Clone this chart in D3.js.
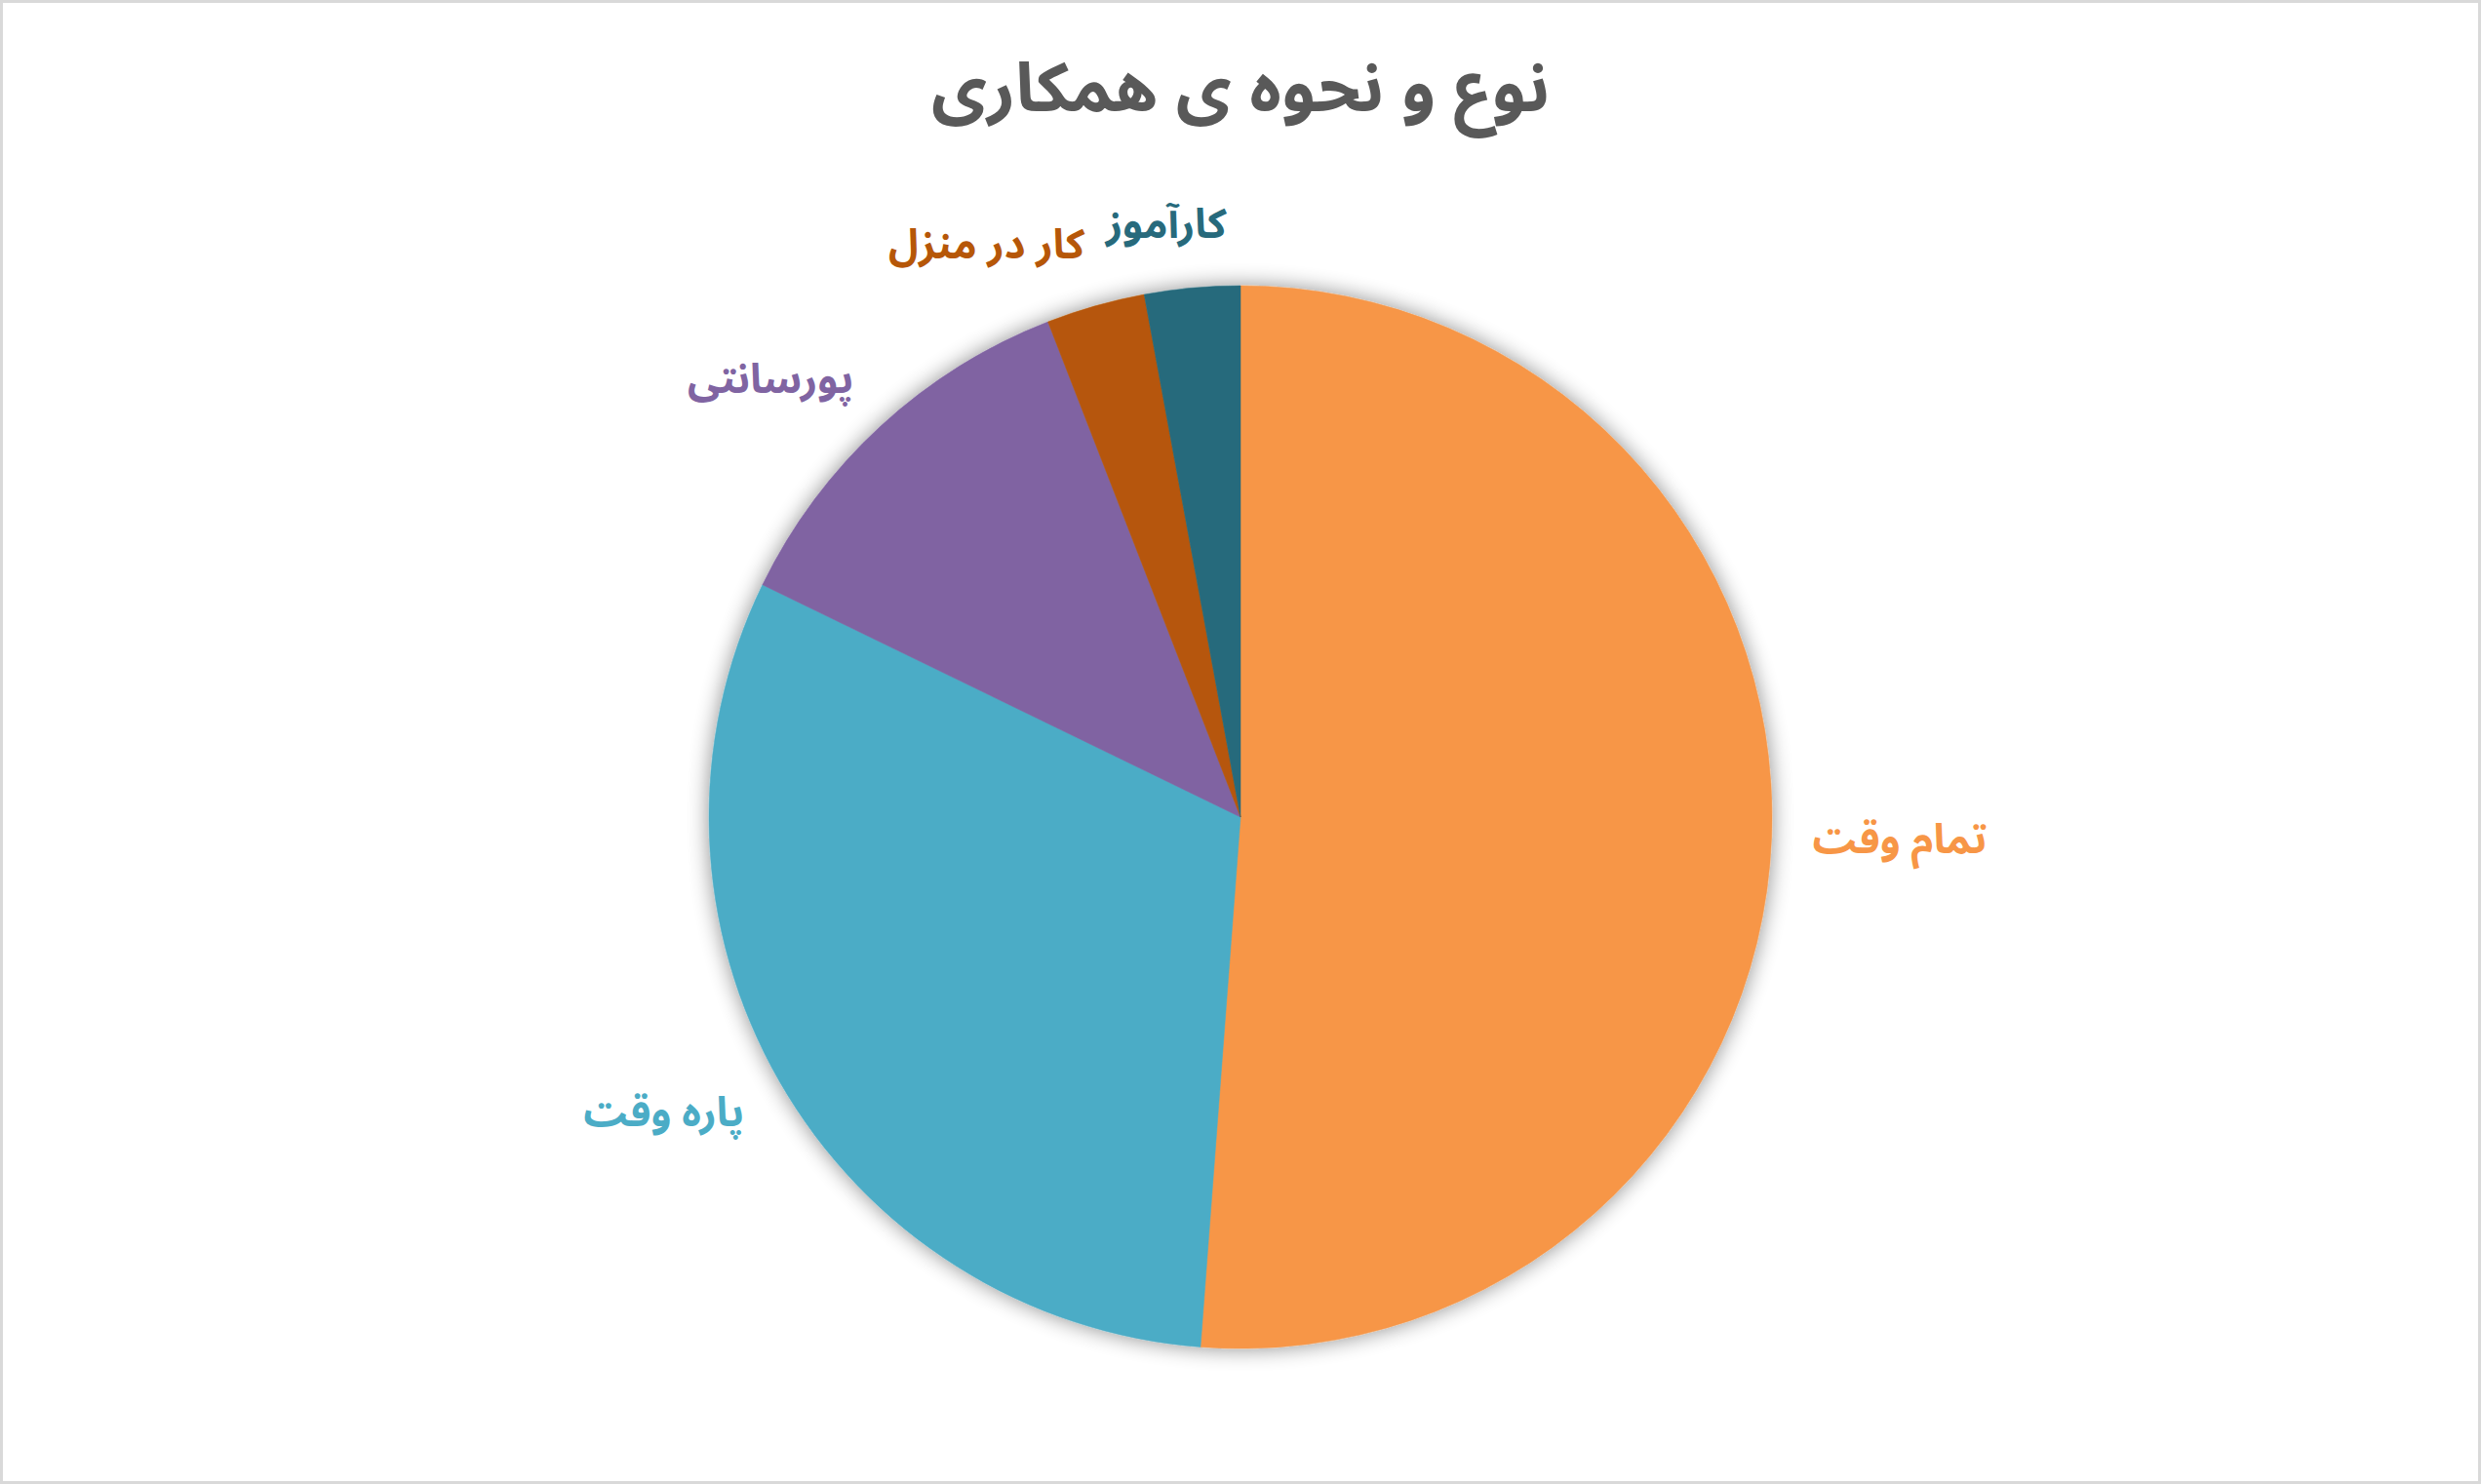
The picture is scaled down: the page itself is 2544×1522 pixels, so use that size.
<!DOCTYPE html>
<html>
<head>
<meta charset="utf-8">
<script src="https://cdn.jsdelivr.net/npm/d3@7/dist/d3.min.js"></script>
<style>
  html, body { margin: 0; padding: 0; background: #fff; }
  svg { display: block; }
  text { font-family: "Noto Sans Arabic", "DejaVu Sans", sans-serif; font-weight: bold; }
</style>
</head>
<body>
<svg id="chart" width="2544" height="1522"></svg>
<script>
// ---- data ----
const title = "نوع و نحوه ی همکاری";
const categories = ["تمام وقت", "پاره وقت", "پورسانتی", "کار در منزل", "کارآموز"];
const values = [51.2, 31.0, 11.9, 3.0, 2.9];
const colors = ["#F79646", "#4BACC6", "#8064A2", "#B65708", "#276A7C"];

// ---- layout ----
const W = 2544, H = 1522;
const cx = 1272, cy = 838, R = 545;
const svg = d3.select("#chart");

svg.append("rect")
  .attr("x", 1.5).attr("y", 1.5).attr("width", W - 3).attr("height", H - 3)
  .attr("fill", "#fff").attr("stroke", "#D9D9D9").attr("stroke-width", 3);

const defs = svg.append("defs");
const f = defs.append("filter").attr("id", "shadow")
  .attr("x", "-20%").attr("y", "-20%").attr("width", "140%").attr("height", "140%");
f.append("feGaussianBlur").attr("in", "SourceAlpha").attr("stdDeviation", 11).attr("result", "b");
f.append("feComponentTransfer").attr("in", "b").attr("result", "s")
  .append("feFuncA").attr("type", "linear").attr("slope", 0.45);
const fm = f.append("feMerge");
fm.append("feMergeNode").attr("in", "s");
fm.append("feMergeNode").attr("in", "SourceGraphic");

svg.append("text")
  .attr("x", cx).attr("y", 114)
  .attr("text-anchor", "middle")
  .attr("direction", "rtl")
  .attr("fill", "#595959")
  .attr("font-size", 70)
  .text(title);

const data = categories.map((c, i) => ({ name: c, value: values[i], color: colors[i] }));
const pie = d3.pie().value(d => d.value).sort(null);
const arcs = pie(data);
const arc = d3.arc().innerRadius(0).outerRadius(R);

const g = svg.append("g").attr("transform", `translate(${cx},${cy})`);
const sg = g.append("g").attr("filter", "url(#shadow)");
sg.selectAll("path").data(arcs).enter().append("path")
  .attr("d", arc)
  .attr("fill", d => d.data.color)
  .attr("stroke", d => d.data.color)
  .attr("stroke-width", 0.5);

// labels: outside end, box placed beyond the rim along the mid angle
const gap = 42;
const labels = g.selectAll("text.lbl").data(arcs).enter().append("text")
  .attr("class", "lbl")
  .attr("text-anchor", "middle")
  .attr("direction", "rtl")
  .attr("font-size", 42)
  .attr("fill", d => d.data.color)
  .text(d => d.data.name);

const boxes = [];
labels.each(function(d) {
  const bb = this.getBBox();
  const a = (d.startAngle + d.endAngle) / 2;
  const s = Math.sin(a), c = Math.cos(a);
  const w = bb.width, h = 46;
  const k = Math.min(1, Math.sqrt(Math.abs(s)) * 1.2) * Math.sign(s);
  const mx = (R + gap) * s + k * w / 2;
  const my = -(R + gap) * c - c * h / 2;
  boxes.push({ node: this, x: mx, y: my, w: w, h: h, a: a });
});
// resolve overlaps: labels further from the top are pushed outward (left)
for (let i = 1; i < boxes.length; i++) {
  for (let j = 0; j < i; j++) {
    const A = boxes[j], B = boxes[i];
    const ox = (A.w + B.w) / 2 + 20 - Math.abs(A.x - B.x);
    const oy = (A.h + B.h) / 2 - Math.abs(A.y - B.y);
    if (ox > 0 && oy > 0) {
      const top = Math.abs(A.a - 2 * Math.PI) < Math.abs(B.a - 2 * Math.PI) ? A : B;
      const other = top === A ? B : A;
      other.x -= ox;
    }
  }
}
boxes.forEach(b => {
  d3.select(b.node).attr("x", b.x).attr("y", b.y).attr("dominant-baseline", "central");
});
</script>
</body>
</html>
